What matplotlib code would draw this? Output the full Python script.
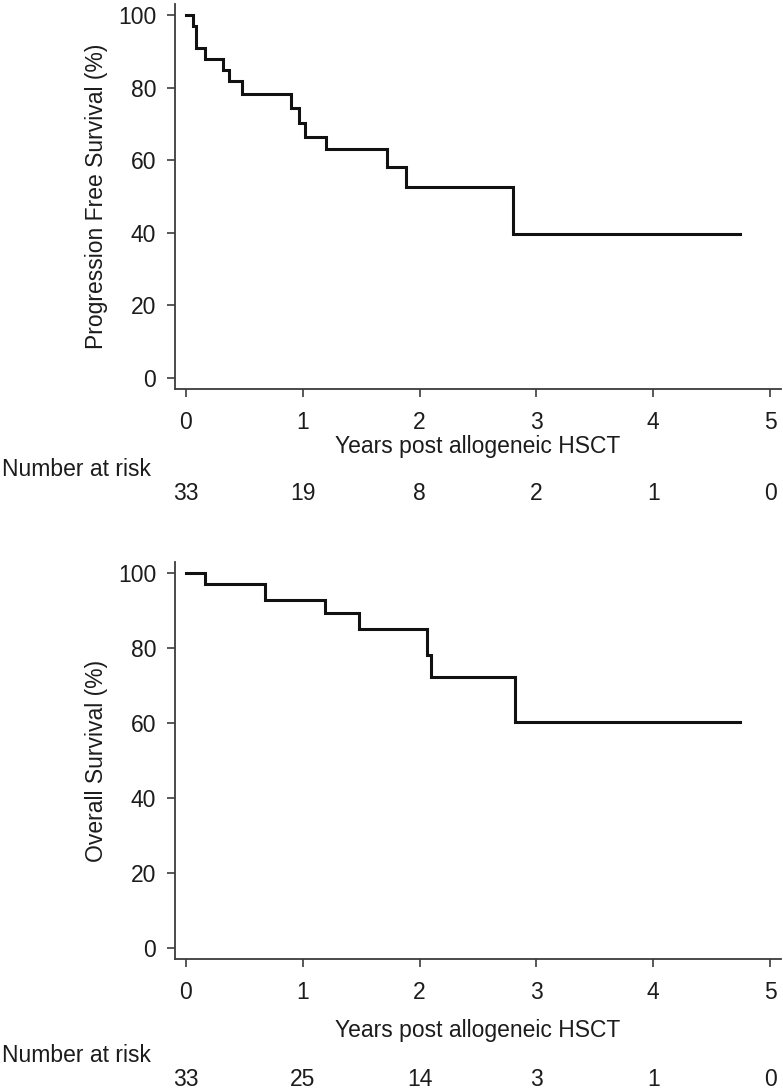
import matplotlib
matplotlib.use("Agg")
import matplotlib.pyplot as plt
from matplotlib.transforms import blended_transform_factory

# ---------------- data ----------------
pfs_time = [0, 0.06, 0.09, 0.16, 0.32, 0.37, 0.48, 0.90, 0.97, 1.02, 1.20, 1.72, 1.88, 2.80, 4.74]
pfs_surv = [100, 97.0, 90.9, 87.9, 84.8, 81.8, 78.3, 74.4, 70.3, 66.5, 63.1, 58.0, 52.6, 39.6, 39.6]

os_time = [0, 0.16, 0.68, 1.19, 1.48, 2.06, 2.10, 2.82, 4.74]
os_surv = [100, 97.0, 92.9, 89.4, 85.1, 78.3, 72.2, 60.3, 60.3]

x_ticks = [0, 1, 2, 3, 4, 5]
y_ticks = [0, 20, 40, 60, 80, 100]
risk_times = [0, 1, 2, 3, 4, 5]
pfs_risk = [33, 19, 8, 2, 1, 0]
os_risk = [33, 25, 14, 3, 1, 0]

xlabel = "Years post allogeneic HSCT"
pfs_ylabel = "Progression Free Survival (%)"
os_ylabel = "Overall Survival (%)"
risk_title = "Number at risk"

# ---------------- style ----------------
plt.rcParams["font.family"] = ["Liberation Sans", "DejaVu Sans"]
FS = 16.5
TXT = "#1c1c1c"
AX = "#3c3c3c"

W, H = 783, 1092
fig = plt.figure(figsize=(W / 100, H / 100), dpi=100)
fig.patch.set_facecolor("white")


def px_axes(l, t, r, b):
    return fig.add_axes([l / W, 1 - b / H, (r - l) / W, (b - t) / H])


def fy(ypx):
    return 1 - ypx / H


def panel(ax, t, s, ylabel, risk, ylab_x, xlab_y, risk_title_y, risk_y):
    ax.step(t, s, where="post", color="#111111", lw=2.2, solid_joinstyle="miter")
    ax.set_xlim(-0.094, 5.094)
    ax.set_ylim(-3.0, 103.0)
    ax.set_xticks(x_ticks)
    ax.set_yticks(y_ticks)
    ax.set_xticklabels([str(v) for v in x_ticks])
    ax.set_yticklabels([str(v) for v in y_ticks])
    for sp in ["top", "right"]:
        ax.spines[sp].set_visible(False)
    for sp in ["left", "bottom"]:
        ax.spines[sp].set_color(AX)
        ax.spines[sp].set_linewidth(1.3)
    ax.tick_params(axis="both", direction="out", length=6, width=1.2, color=AX,
                   labelsize=FS, labelcolor=TXT)
    ax.tick_params(axis="y", pad=7.5)
    ax.tick_params(axis="x", pad=10)
    tr_y = blended_transform_factory(fig.transFigure, ax.transAxes)
    ax.text(ylab_x / W, 0.5, ylabel, transform=tr_y, rotation=90,
            ha="center", va="center", fontsize=FS, color=TXT)
    tr_x = blended_transform_factory(ax.transAxes, fig.transFigure)
    ax.text(0.5, fy(xlab_y), xlabel, transform=tr_x, ha="center", va="center",
            fontsize=FS, color=TXT)
    fig.text(2 / W, fy(risk_title_y), risk_title, ha="left", va="center",
             fontsize=FS, color=TXT)
    tr_r = blended_transform_factory(ax.transData, fig.transFigure)
    for tv, n in zip(risk_times, risk):
        ax.text(tv, fy(risk_y), str(n), transform=tr_r, ha="center", va="center",
                fontsize=FS, color=TXT, clip_on=False)


ax1 = px_axes(175, 4, 781, 389)
panel(ax1, pfs_time, pfs_surv, pfs_ylabel, pfs_risk, 97, 446, 469, 494)

ax2 = px_axes(175, 562, 781, 959)
panel(ax2, os_time, os_surv, os_ylabel, os_risk, 97, 1030, 1055, 1079)

fig.savefig("out.png", dpi=100, facecolor="white")
